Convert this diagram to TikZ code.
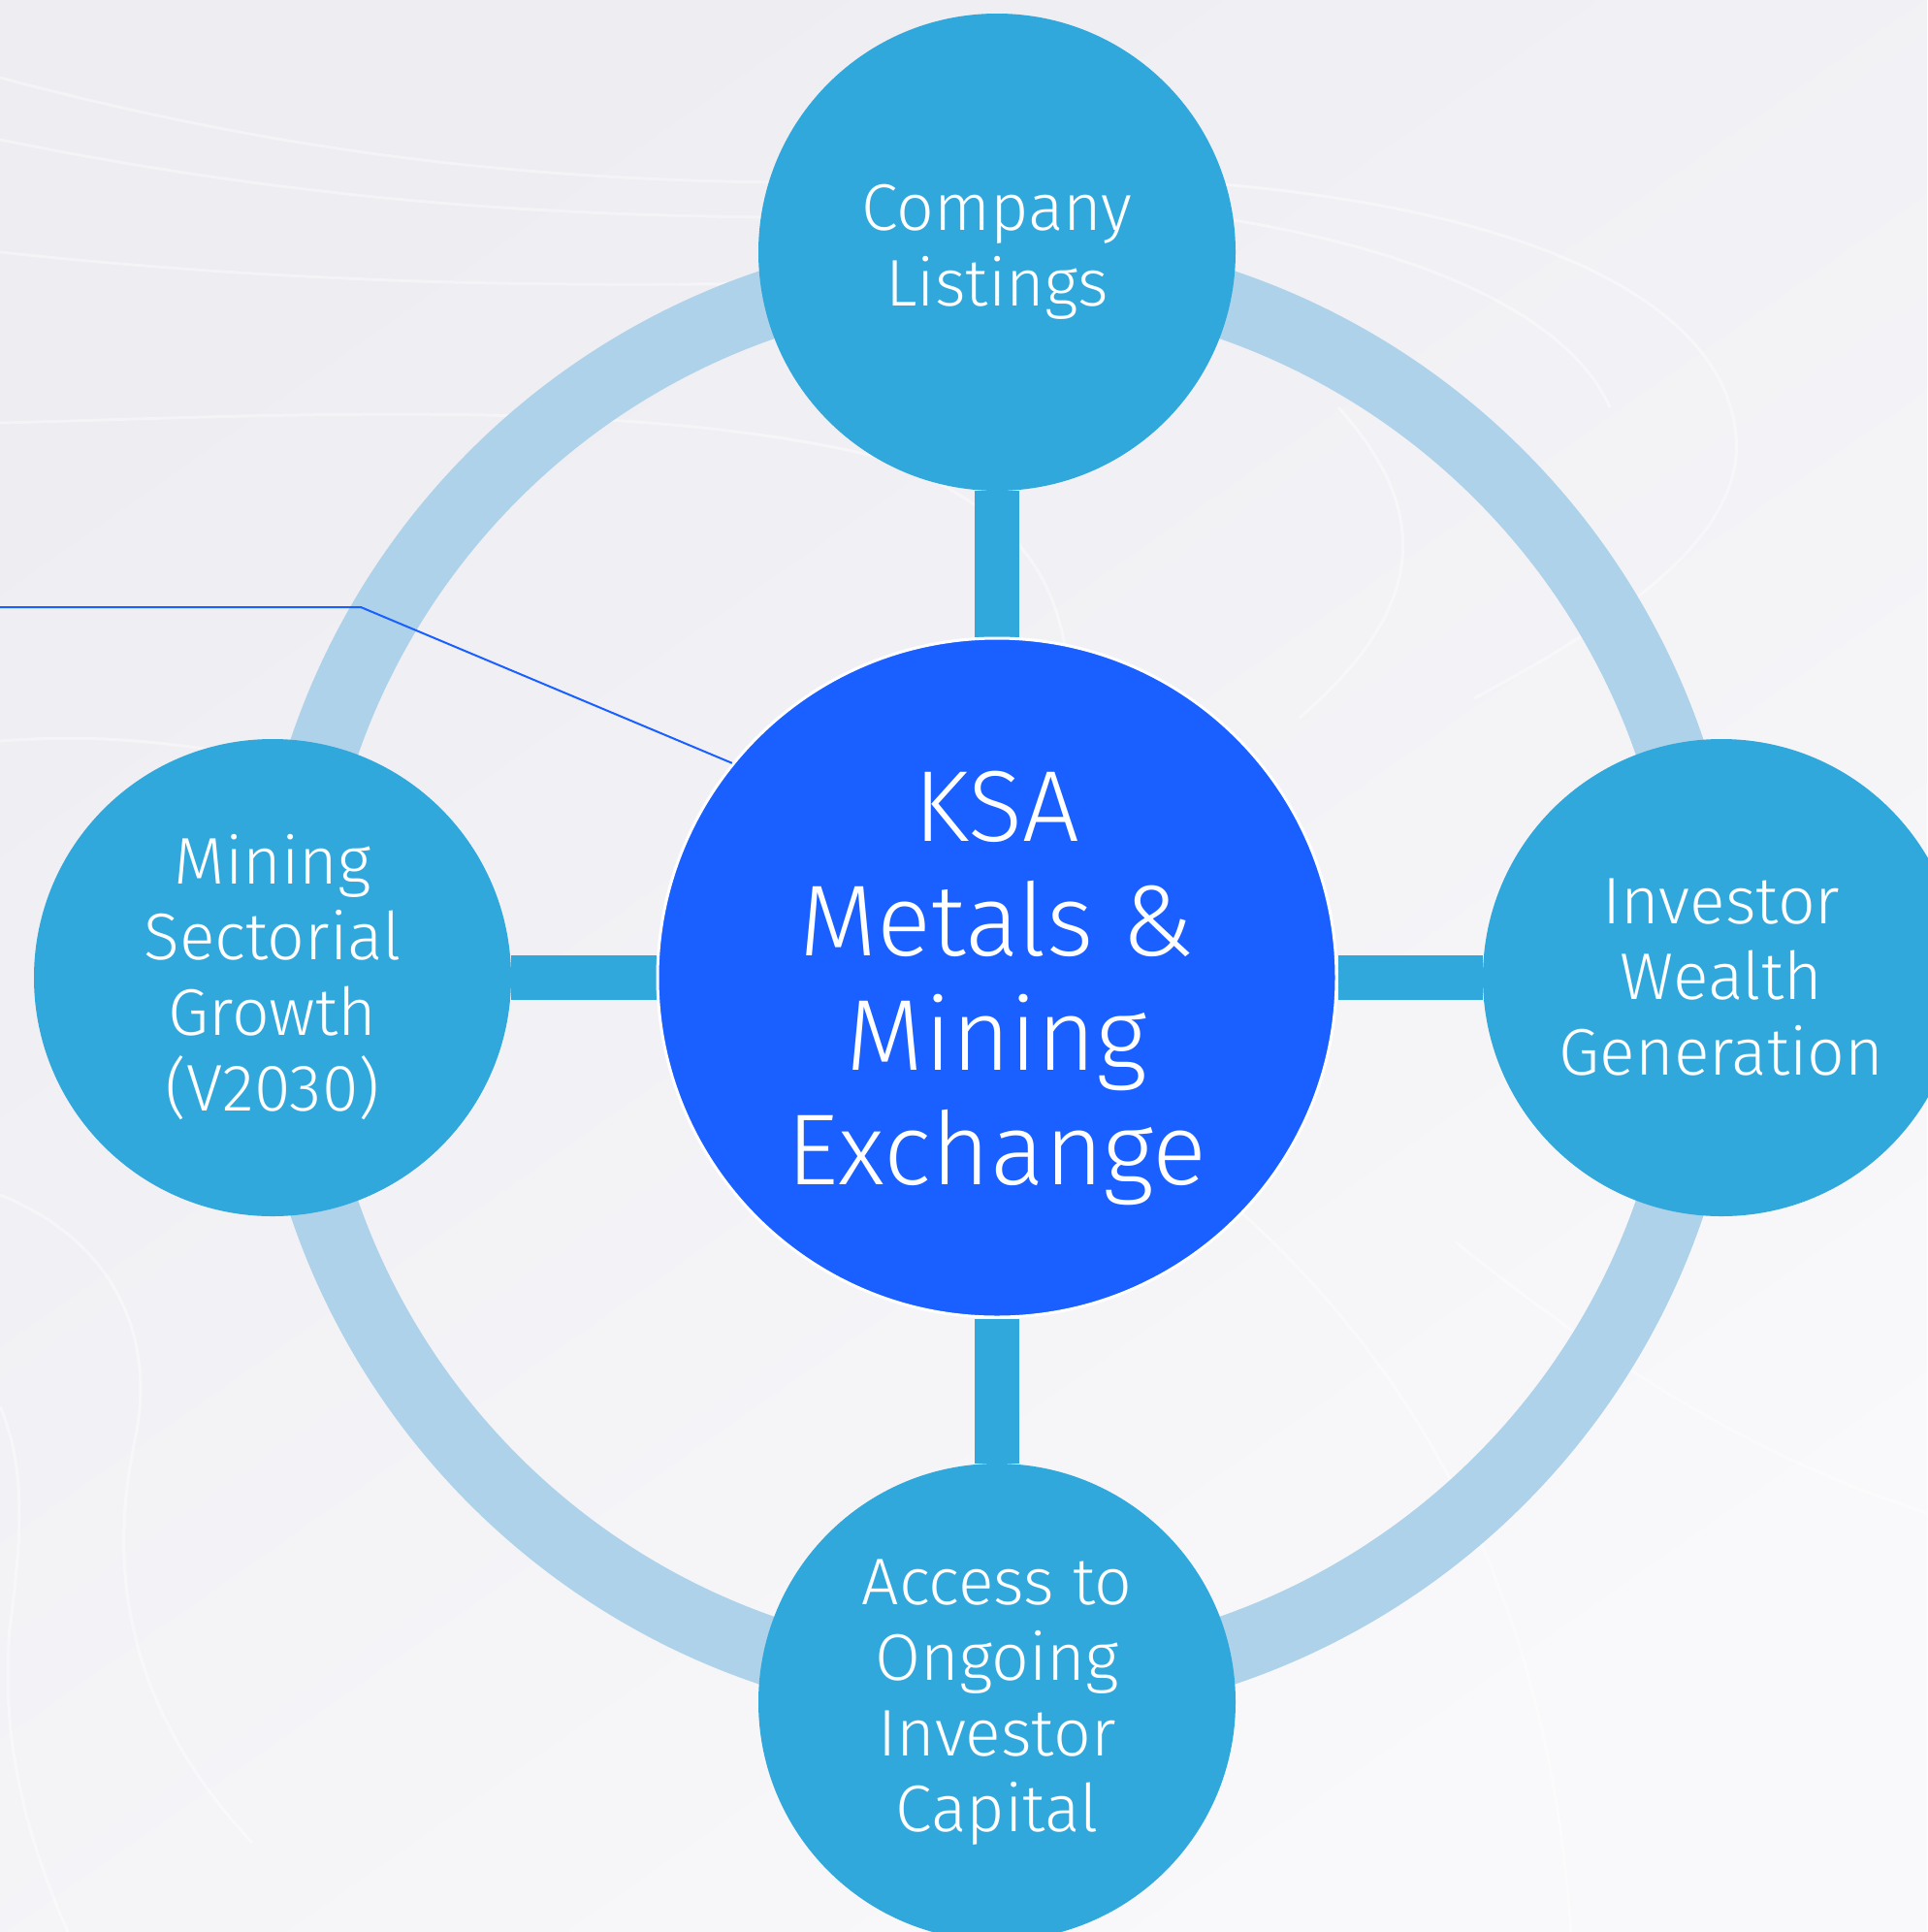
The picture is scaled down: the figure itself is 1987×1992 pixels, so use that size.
\documentclass[tikz,border=0pt]{standalone}
\usepackage{fontspec}
\setmainfont{Fira Sans Light}
\definecolor{paperA}{HTML}{EDEDF2}
\definecolor{paperB}{HTML}{F9F9FB}
\definecolor{ringblue}{HTML}{AED2EA}
\definecolor{topicblue}{HTML}{31A8DC}
\definecolor{hubblue}{HTML}{1A5FFF}
\pgfdeclarelayer{paper}
\pgfdeclarelayer{ring}
\pgfsetlayers{paper,ring,main}
\tikzset{
  topic/.style={circle,fill=topicblue,minimum size=492pt,inner sep=0pt,
    text=white,align=center,font=\fontsize{68}{78}\selectfont},
  hub/.style={circle,fill=hubblue,draw=white,line width=3pt,minimum size=700pt,
    inner sep=0pt,text depth=0pt,text=white,align=center,
    font=\fontsize{104}{118}\selectfont},
  spoke/.style={topicblue,line width=46pt},
  pointer/.style={hubblue,line width=2pt},
  swirl/.style={white,line width=3pt,opacity=0.4},
}
\begin{document}
\begin{tikzpicture}[x=1pt,y=-1pt]
\useasboundingbox (0,0) rectangle (1987,1992);

\node[hub] (hub) at (1028,1008) {KSA\\Metals \&\\Mining\\Exchange};
\node[topic] (listings) at (1028,260) {Company\\Listings};
\node[topic] (growth) at (281,1008) {Mining\\Sectorial\\Growth\\(V2030)};
\node[topic] (wealth) at (1775,1008) {Investor\\Wealth\\Generation};
\node[topic] (capital) at (1028,1755) {Access to\\Ongoing\\Investor\\Capital};

% callout line
\coordinate (tail) at (0,626);
\coordinate (bend) at (372,626);
\draw[pointer] (tail) -- (bend) -- (hub.141);

% ring and spokes
\begin{pgfonlayer}{ring}
\draw[ringblue,line width=71pt] (hub.center) circle[radius=733pt];
\foreach \n in {listings,growth,wealth,capital}
  \draw[spoke] (hub) -- (\n);
\end{pgfonlayer}

% paper with faint swirls
\begin{pgfonlayer}{paper}
\shade[top color=paperA,bottom color=paperB,shading angle=35] (0,0) rectangle (1987,1992);
\draw[swirl] (0,80) .. controls (300,160) and (550,185) .. (800,188);
\draw[swirl] (0,144) .. controls (300,205) and (550,222) .. (800,224);
\draw[swirl] (0,260) .. controls (300,292) and (550,296) .. (800,292);
\draw[swirl] (0,436) .. controls (300,428) and (650,410) .. (900,470)
  .. controls (1050,520) and (1090,600) .. (1100,680);
\draw[swirl] (0,764) .. controls (80,758) and (150,762) .. (230,775);
\draw[swirl] (0,1232) .. controls (120,1280) and (160,1380) .. (140,1480)
  .. controls (110,1620) and (130,1760) .. (260,1900);
\draw[swirl] (0,1450) .. controls (30,1520) and (20,1600) .. (10,1680)
  .. controls (0,1800) and (30,1900) .. (70,1992);
\draw[swirl] (1260,190) .. controls (1600,220) and (1780,320) .. (1790,450)
  .. controls (1800,560) and (1650,650) .. (1520,720);
\draw[swirl] (1260,225) .. controls (1480,260) and (1620,330) .. (1660,420);
\draw[swirl] (1380,420) .. controls (1470,520) and (1480,620) .. (1340,740);
\draw[swirl] (1500,1280) .. controls (1650,1400) and (1800,1500) .. (1987,1560);
\draw[swirl] (1280,1250) .. controls (1500,1450) and (1600,1700) .. (1620,1992);
\end{pgfonlayer}
\end{tikzpicture}
\end{document}
